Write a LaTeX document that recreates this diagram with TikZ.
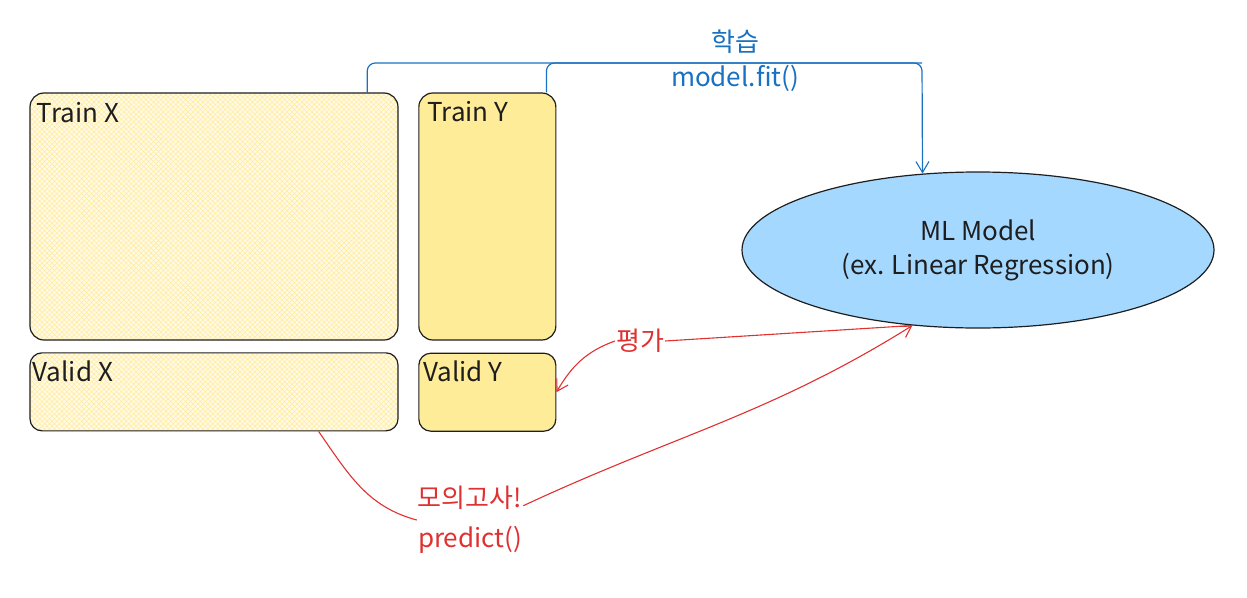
\documentclass[tikz,border=0pt]{standalone}
\usepackage{fontspec}
\setmainfont{Noto Sans CJK KR}
\usetikzlibrary{positioning,shapes.geometric,arrows.meta,patterns.meta}
\definecolor{ink}{HTML}{1E1E1E}
\definecolor{sticky}{HTML}{FFEC99}
\definecolor{stickylight}{HTML}{FFFAE3}
\definecolor{stickyhatch}{HTML}{FFEB9C}
\definecolor{modelblue}{HTML}{A5D8FF}
\definecolor{fitblue}{HTML}{1971C2}
\definecolor{evalred}{HTML}{E03131}
\tikzset{
  box/.style={draw=ink, line width=1.2pt, rounded corners=14pt, inner sep=0pt},
  hatched/.style={preaction={fill=stickylight},
    preaction={pattern={Lines[angle=45,distance=3.5pt,line width=0.5pt]}, pattern color=stickyhatch},
    pattern={Lines[angle=-45,distance=3.5pt,line width=0.5pt]}, pattern color=stickyhatch},
  tag/.style={anchor=north west, inner sep=0pt, text=ink, font=\fontsize{26}{30}\selectfont},
  note/.style={inner sep=1pt, font=\fontsize{26}{34}\selectfont},
  fit arrow/.style={draw=fitblue, line width=1.2pt, rounded corners=8pt},
  red arrow/.style={draw=evalred, line width=1.1pt},
  barb/.tip={Straight Barb[length=11pt,width=13pt,line width=1.1pt]}
}
\begin{document}
\begin{tikzpicture}[x=1pt,y=-1pt]
\useasboundingbox (0,0) rectangle (1247,597);

% data boxes
\node[box, hatched, minimum width=368pt, minimum height=247pt] (trainx) at (214,216.5) {};
\node[box, fill=sticky, minimum width=137pt, minimum height=247pt, right=20pt of trainx] (trainy) {};
\node[box, hatched, rounded corners=12pt, minimum width=368pt, minimum height=78pt, below=12pt of trainx] (validx) {};
\node[box, fill=sticky, rounded corners=12pt, minimum width=137pt, minimum height=78pt, below=12pt of trainy] (validy) {};

\node[tag] (trainxlabel) at ([shift={(7,9)}]trainx.north west) {Train X};
\node[tag] (trainylabel) at ([shift={(9,9)}]trainy.north west) {Train Y};
\node[tag] (validxlabel) at ([shift={(3,8)}]validx.north west) {Valid X};
\node[tag] (validylabel) at ([shift={(5,8)}]validy.north west) {Valid Y};

% model
\node[ellipse, draw=ink, line width=1.2pt, fill=modelblue, minimum width=472pt, minimum height=156pt,
  inner sep=0pt, align=center, text=ink, font=\fontsize{26}{34}\selectfont] (model) at (978,250)
  {ML Model\\(ex. Linear Regression)};

% fit
\coordinate (fittop) at (922,63);
\node[note, text=fitblue] (fitko) at (735,42) {학습};
\node[note, text=fitblue] (fiten) at (735,78) {model.fit()};
\draw[fit arrow] ([xshift=-10pt]trainy.north east) |- (fittop);
\draw[fit arrow, -{barb}] ([xshift=-31pt]trainx.north east) |- (fittop) -- (model.126);

% evaluate
\node[note, text=evalred] (eval) at (640,341) {평가};
\draw[red arrow] (model.229) -- (eval.east);
\draw[red arrow, -{barb}] (eval.west) to[out=200,in=60] (validy.east);

% predict
\node[note, text=evalred, align=center, font=\fontsize{26}{40}\selectfont] (mock) at (470,520) {모의고사!\\predict()};
\draw[red arrow] ([xshift=-80pt]validx.south east) to[out=-55,in=165] (mock.west);
\draw[red arrow, -{barb}] (mock.15) to[out=25,in=212] (model.229);
\end{tikzpicture}
\end{document}
